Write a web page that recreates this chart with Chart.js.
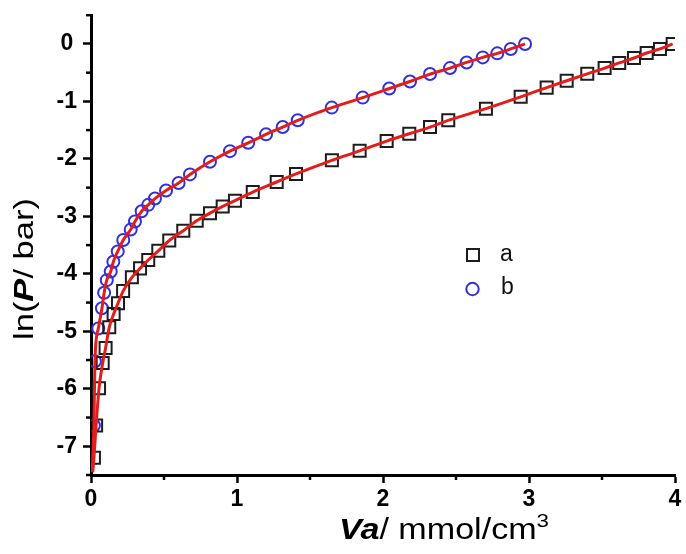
<!DOCTYPE html>
<html>
<head>
<meta charset="utf-8">
<script src="https://cdn.jsdelivr.net/npm/chart.js@4"></script>
<style>
  html, body { margin: 0; padding: 0; background: #fff; }
  #wrap { width: 686px; height: 554px; }
</style>
</head>
<body>
<div id="wrap"><canvas id="isoChart" width="686" height="554"></canvas></div>
<script>
// sample a (squares)
const aX = [0.02, 0.035, 0.055, 0.08, 0.10, 0.125, 0.155, 0.185, 0.22, 0.28, 0.336, 0.392, 0.461, 0.536,
  0.632, 0.724, 0.815, 0.902, 0.986, 1.108, 1.272, 1.404, 1.65, 1.84, 2.025, 2.18, 2.322, 2.447, 2.705,
  2.943, 3.121, 3.258, 3.399, 3.518, 3.618, 3.719, 3.806, 3.897, 3.984];
const aY = [-7.2, -6.64, -5.99, -5.55, -5.29, -4.93, -4.7, -4.51, -4.3, -4.06, -3.905, -3.76, -3.6, -3.42,
  -3.25, -3.077, -2.944, -2.827, -2.727, -2.577, -2.402, -2.262, -2.025, -1.86, -1.69, -1.563, -1.446, -1.329, -1.126,
  -0.92, -0.76, -0.64, -0.52, -0.42, -0.33, -0.245, -0.157, -0.087, 0.0];
// sample b (circles)
const bX = [0.02, 0.027, 0.05, 0.075, 0.09, 0.108, 0.135, 0.153, 0.183, 0.221, 0.272, 0.301, 0.347, 0.392,
  0.438, 0.514, 0.60, 0.678, 0.815, 0.952, 1.077, 1.199, 1.313, 1.416, 1.649, 1.861, 2.043, 2.185, 2.322,
  2.459, 2.573, 2.683, 2.783, 2.875, 2.973];
const bY = [-6.64, -5.52, -4.95, -4.6, -4.33, -4.11, -3.96, -3.79, -3.61, -3.41, -3.23, -3.09, -2.91, -2.80,
  -2.69, -2.55, -2.42, -2.27, -2.05, -1.865, -1.72, -1.573, -1.446, -1.329, -1.108, -0.934, -0.776, -0.654, -0.524,
  -0.42, -0.322, -0.234, -0.164, -0.087, 0.0];
// where the red fit lines begin near the origin
const fitStartX = [0.012, 0.008];
const fitStartY = [-7.45, -7.45];
const legendLabels = ['a', 'b'];

const FONT = '"Liberation Sans", Arial, sans-serif';
const RED = '#e41c1c';
const BLACK = '#1c1c1c';
const BLUE = '#3030e0';

const toPts = (xs, ys) => xs.map((x, i) => ({ x: x, y: ys[i] }));
const ptsA = toPts(aX, aY);
const ptsB = toPts(bX, bY);
const lineA = [{ x: fitStartX[0], y: fitStartY[0] }].concat(ptsA);
const lineB = [{ x: fitStartX[1], y: fitStartY[1] }].concat(ptsB);

// minor ticks, axis titles and the legend
const extras = {
  id: 'extras',
  afterDraw(chart) {
    const ctx = chart.ctx;
    const xs = chart.scales.x, ys = chart.scales.y;
    const area = chart.chartArea;
    ctx.save();
    ctx.strokeStyle = '#000';
    ctx.lineWidth = 2.5;
    for (let v = Math.ceil(xs.min * 2) / 2; v <= xs.max + 1e-9; v += 0.5) {
      if (Number.isInteger(v)) continue;
      const px = xs.getPixelForValue(v);
      ctx.beginPath(); ctx.moveTo(px, area.bottom); ctx.lineTo(px, area.bottom + 5); ctx.stroke();
    }
    for (let v = Math.ceil(ys.min * 2) / 2; v <= ys.max + 1e-9; v += 0.5) {
      if (Number.isInteger(v)) continue;
      const py = ys.getPixelForValue(v);
      ctx.beginPath(); ctx.moveTo(area.left, py); ctx.lineTo(area.left - 5, py); ctx.stroke();
    }

    // mixed-style text, stretched to the measured length
    const drawParts = (parts, cx, cy, target, rotate) => {
      let total = 0;
      parts.forEach(p => { ctx.font = p.font; p.w = ctx.measureText(p.text).width; total += p.w; });
      ctx.save();
      ctx.translate(cx, cy);
      if (rotate) ctx.rotate(-Math.PI / 2);
      ctx.scale(target / total, 1);
      ctx.fillStyle = '#000';
      ctx.textBaseline = 'middle';
      ctx.textAlign = 'left';
      let x = -total / 2;
      parts.forEach(p => {
        ctx.font = p.font;
        ctx.fillText(p.text, x, p.dy || 0);
        x += p.w;
      });
      ctx.restore();
    };
    drawParts([
      { text: 'ln(', font: '28px ' + FONT },
      { text: 'P', font: 'italic bold 28px ' + FONT },
      { text: '/ bar)', font: '28px ' + FONT }
    ], 25, 269, 142, true);
    drawParts([
      { text: 'Va', font: 'italic bold 29px ' + FONT },
      { text: '/ mmol/cm', font: '29px ' + FONT },
      { text: '3', font: '19px ' + FONT, dy: -9 }
    ], 444, 531, 210, false);

    // legend
    const metaA = chart.data.datasets[2], metaB = chart.data.datasets[3];
    ctx.lineWidth = 2;
    ctx.strokeStyle = metaA.borderColor;
    ctx.strokeRect(467, 249, 12, 12);
    ctx.strokeStyle = metaB.borderColor;
    ctx.beginPath(); ctx.arc(472.5, 289, 6.2, 0, Math.PI * 2); ctx.stroke();
    ctx.fillStyle = '#111';
    ctx.font = '23px ' + FONT;
    ctx.textBaseline = 'middle';
    ctx.textAlign = 'left';
    ctx.fillText(legendLabels[0], 500, 255);
    ctx.fillText(legendLabels[1], 501, 288);
    ctx.restore();
  }
};

// major ticks on whole numbers only
const wholeTicks = scale => {
  const out = [];
  for (let v = Math.ceil(scale.min); v <= Math.floor(scale.max); v++) out.push({ value: v });
  scale.ticks = out;
};

new Chart(document.getElementById('isoChart').getContext('2d'), {
  type: 'scatter',
  data: {
    datasets: [
      { label: 'fit a', data: lineA, showLine: true, pointRadius: 0, borderColor: RED, borderWidth: 3,
        cubicInterpolationMode: 'monotone', order: 0 },
      { label: 'fit b', data: lineB, showLine: true, pointRadius: 0, borderColor: RED, borderWidth: 3,
        cubicInterpolationMode: 'monotone', order: 0 },
      { label: legendLabels[0], data: ptsA, pointStyle: 'rect', pointRadius: 8.5, borderColor: BLACK,
        borderWidth: 2, backgroundColor: 'rgba(0,0,0,0)', order: 1 },
      { label: legendLabels[1], data: ptsB, pointStyle: 'circle', pointRadius: 6, borderColor: BLUE,
        borderWidth: 2, backgroundColor: 'rgba(0,0,0,0)', order: 1 }
    ]
  },
  options: {
    responsive: false,
    animation: false,
    events: [],
    layout: { padding: { top: 12, right: 11, left: 0, bottom: 0 } },
    plugins: { legend: { display: false }, tooltip: { enabled: false } },
    scales: {
      x: {
        type: 'linear', min: 0, max: 4,
        ticks: { color: '#000', font: { family: FONT, size: 23, weight: 'bold' }, padding: 3,
          maxRotation: 0, autoSkip: false },
        grid: { drawOnChartArea: false, drawTicks: true, tickLength: 8, tickWidth: 2.5, tickColor: '#000' },
        border: { display: true, color: '#000', width: 3 },
        afterBuildTicks: wholeTicks,
        afterFit: s => { s.height = 79; }
      },
      y: {
        type: 'linear', min: -7.5, max: 0.5,
        ticks: { color: '#000', font: { family: FONT, size: 23, weight: 'bold', lineHeight: 0.8 }, padding: 6,
          crossAlign: 'center', autoSkip: false },
        grid: { drawOnChartArea: false, drawTicks: true, tickLength: 8, tickWidth: 2.5, tickColor: '#000' },
        border: { display: true, color: '#000', width: 3 },
        afterBuildTicks: wholeTicks,
        afterFit: s => { s.width = 91; }
      }
    }
  },
  plugins: [extras]
});
</script>
</body>
</html>
